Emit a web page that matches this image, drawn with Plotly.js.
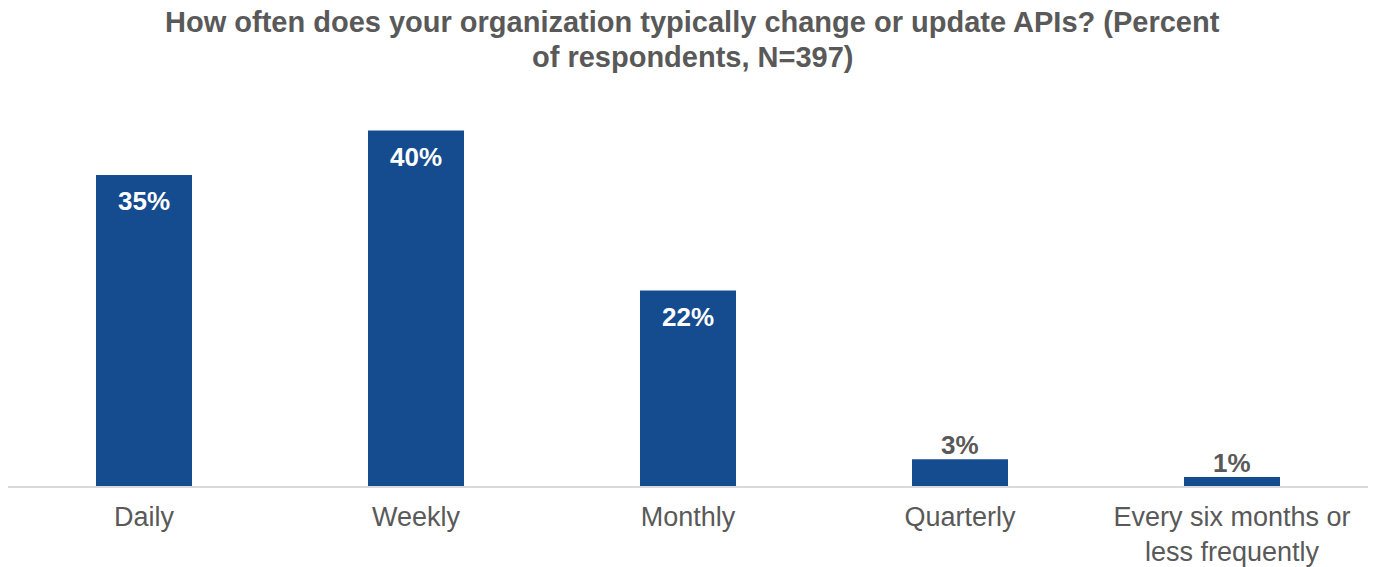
<!DOCTYPE html>
<html>
<head>
<meta charset="utf-8">
<script src="https://cdn.plot.ly/plotly-3.0.1.min.js"></script>
<style>html,body{margin:0;padding:0;background:#fff;}#chart{width:1373px;height:567px;}</style>
</head>
<body>
<div id="chart"></div>
<script>
const categories = ["Daily", "Weekly", "Monthly", "Quarterly", "Every six months or<br>less frequently"];
const percentValues = [35, 40, 22, 3, 1];
const valueLabels = ["35%", "40%", "22%", "3%", "1%"];
const titleLines = ["How often does your organization typically change or update APIs? (Percent", "of respondents, N=397)"];

const FONT = "Arial, 'Liberation Sans', sans-serif";
const GREY = "#595959";
const INSIDE_MIN = 10; // values at or above this get their label inside the bar

const trace = {
  type: "bar",
  x: categories,
  y: percentValues,
  marker: {color: "rgb(21,75,143)", line: {width: 0}},
  hoverinfo: "skip"
};

const labelAnnotations = categories.map((c, i) => {
  const inside = percentValues[i] >= INSIDE_MIN;
  return {
    x: c,
    y: percentValues[i],
    xref: "x",
    yref: "y",
    text: valueLabels[i],
    showarrow: false,
    xanchor: "center",
    yanchor: "middle",
    yshift: inside ? -26 : 14,
    font: {family: FONT, size: 26, color: inside ? "#ffffff" : GREY, weight: "bold"}
  };
});

// plot area: top 95px, height 391px
const titleAnnotations = titleLines.map((t, i) => ({
  x: 0.5035,
  xref: "paper",
  y: 1 + (95 - (22 + 35 * i)) / 391,
  yref: "paper",
  text: t,
  showarrow: false,
  xanchor: "center",
  yanchor: "middle",
  font: {family: FONT, size: 29, color: GREY, weight: "bold"}
}));

const layout = {
  width: 1373,
  height: 567,
  margin: {l: 8, r: 5, t: 95, b: 81},
  paper_bgcolor: "#ffffff",
  plot_bgcolor: "#ffffff",
  bargap: 0.647,
  showlegend: false,
  font: {family: FONT, color: GREY},
  annotations: titleAnnotations.concat(labelAnnotations),
  xaxis: {
    type: "category",
    showline: true,
    linecolor: "#d9d9d9",
    linewidth: 1.5,
    ticks: "",
    showgrid: false,
    zeroline: false,
    tickfont: {family: FONT, size: 27, color: GREY},
    ticklabelstandoff: 6,
    automargin: false
  },
  yaxis: {
    range: [0, 44],
    visible: false,
    showgrid: false,
    zeroline: false,
    fixedrange: true
  }
};

Plotly.newPlot("chart", [trace], layout, {displayModeBar: false, staticPlot: true});
</script>
</body>
</html>
